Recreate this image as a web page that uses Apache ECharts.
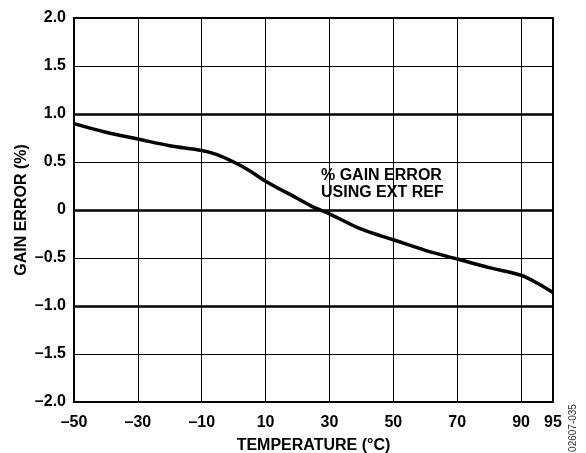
<!DOCTYPE html>
<html>
<head>
<meta charset="utf-8">
<script src="https://cdn.jsdelivr.net/npm/echarts@6/dist/echarts.min.js"></script>
<style>
  html, body { margin: 0; padding: 0; background: #fff; }
  #chart { width: 586px; height: 453px; }
</style>
</head>
<body>
<div id="chart"></div>
<script>
// temperature (°C) and % gain error
var temps = [-50, -40, -30, -20, -10, -5, 0, 5, 10, 20, 25, 30, 40, 50, 60, 70, 80, 90, 92.5, 95];
var gainError = [0.90, 0.81, 0.74, 0.67, 0.62, 0.575, 0.50, 0.41, 0.30, 0.12, 0.03, -0.04, -0.20, -0.31, -0.42, -0.51, -0.60, -0.68, -0.76, -0.86];
var heavyLines = [1, 0, -1];
var annotation = "% GAIN ERROR\nUSING EXT REF";

// the last grid cell (90..95) is drawn as wide as 10 degrees
function toAxis(t) { return t <= 90 ? t : 90 + (t - 90) * 2; }
function fromAxis(v) { return v <= 90 ? v : 90 + (v - 90) / 2; }

var font = "'Liberation Sans', Arial, sans-serif";
var chart = echarts.init(document.getElementById("chart"));

var option = {
  animation: false,
  grid: {
    left: 74, right: 33, top: 18, bottom: 51,
    outerBoundsMode: "none",
    containLabel: false,
    show: true, borderColor: "#000", borderWidth: 2
  },
  xAxis: {
    type: "value",
    min: -50, max: 100, interval: 20,
    name: "TEMPERATURE (°C)",
    nameLocation: "middle",
    nameGap: 36,
    nameTextStyle: { color: "#000", fontWeight: "bold", fontSize: 16, fontFamily: font },
    axisLine: { show: false },
    axisTick: { show: false },
    axisLabel: {
      color: "#000", fontWeight: "bold", fontSize: 16, fontFamily: font, margin: 13,
      showMaxLabel: true,
      formatter: function (v) {
        var t = fromAxis(v);
        return t < 0 ? "\u2013" + Math.abs(t) : String(t);
      }
    },
    splitLine: { show: true, lineStyle: { color: "#000", width: 1 } }
  },
  yAxis: {
    type: "value",
    min: -2, max: 2, interval: 0.5,
    name: "GAIN ERROR (%)",
    nameLocation: "middle",
    nameGap: 44,
    nameMoveOverlap: false,
    nameTextStyle: { color: "#000", fontWeight: "bold", fontSize: 16, fontFamily: font },
    axisLine: { show: false },
    axisTick: { show: false },
    axisLabel: {
      color: "#000", fontWeight: "bold", fontSize: 16, fontFamily: font, margin: 8,
      formatter: function (v) {
        if (v === 0) return "0";
        return v < 0 ? "\u2013" + Math.abs(v).toFixed(1) : v.toFixed(1);
      }
    },
    splitLine: { show: true, lineStyle: { color: "#000", width: 1 } }
  },
  series: [
    {
      type: "line",
      data: temps.map(function (t, i) { return [toAxis(t), gainError[i]]; }),
      smooth: 0.35,
      symbol: "none",
      lineStyle: { color: "#000", width: 3.5 },
      z: 5,
      markLine: {
        silent: true,
        symbol: "none",
        label: { show: false },
        lineStyle: { color: "#000", width: 2.5, type: "solid" },
        data: heavyLines.map(function (y) { return { yAxis: y }; })
      }
    }
  ],
  graphic: [
    {
      type: "text",
      left: 321, top: 167,
      style: {
        text: annotation,
        font: "bold 16px " + font,
        fill: "#000",
        lineHeight: 17
      }
    },
    {
      type: "text",
      x: 573, y: 428,
      rotation: Math.PI / 2,
      style: {
        text: "02607-035",
        font: "10px " + font,
        fill: "#333",
        align: "center",
        verticalAlign: "middle"
      }
    }
  ]
};
chart.setOption(option);
</script>
</body>
</html>
